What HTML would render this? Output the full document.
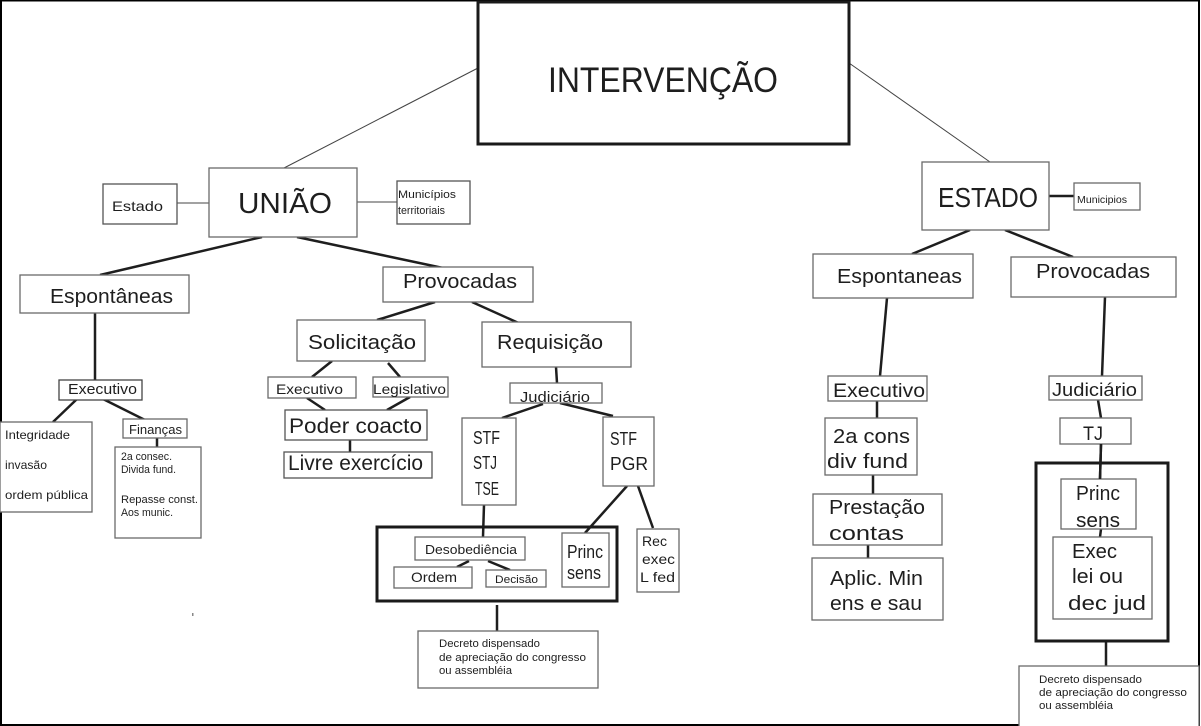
<!DOCTYPE html>
<html><head><meta charset="utf-8"><style>
html,body{margin:0;padding:0;background:#fff;}
svg{display:block;}
text{font-family:"Liberation Sans",sans-serif;fill:#1e1e1e;}
</style></head><body>
<svg width="1201" height="726" viewBox="0 0 1201 726" xmlns="http://www.w3.org/2000/svg">
<rect x="0" y="0" width="1201" height="726" fill="#fff"/>
<!-- outer border -->
<rect x="1" y="0.5" width="1198" height="724.5" fill="none" stroke="#000" stroke-width="2"/>

<!-- thin connectors -->
<g stroke="#444" stroke-width="1" fill="none">
<line x1="478" y1="68" x2="284" y2="168"/>
<line x1="849" y1="63" x2="990" y2="162"/>
<line x1="177" y1="203" x2="209" y2="203"/>
<line x1="357" y1="202" x2="397" y2="202"/>
</g>
<!-- thick connectors -->
<g stroke="#1e1e1e" stroke-width="2.5" fill="none">
<line x1="262" y1="237" x2="100" y2="275"/>
<line x1="297" y1="237" x2="443" y2="268"/>
<line x1="95" y1="313" x2="95" y2="380"/>
<line x1="77" y1="399" x2="53" y2="422"/>
<line x1="103" y1="399" x2="145" y2="420"/>
<line x1="157" y1="438" x2="157" y2="447"/>
<line x1="435" y1="302" x2="377" y2="320"/>
<line x1="472" y1="302" x2="523" y2="325"/>
<line x1="332" y1="361" x2="312" y2="377"/>
<line x1="388" y1="363" x2="400" y2="377"/>
<line x1="307" y1="398" x2="325" y2="410"/>
<line x1="410" y1="397" x2="387" y2="410"/>
<line x1="350" y1="440" x2="350" y2="452"/>
<line x1="556" y1="367" x2="557" y2="383"/>
<line x1="543" y1="404" x2="502" y2="418"/>
<line x1="560" y1="403" x2="613" y2="416"/>
<line x1="484" y1="505" x2="483" y2="537"/>
<line x1="627" y1="486" x2="585" y2="533"/>
<line x1="638" y1="486" x2="653" y2="528"/>
<line x1="469" y1="561" x2="457" y2="567"/>
<line x1="488" y1="561" x2="510" y2="570"/>
<line x1="497" y1="605" x2="497" y2="631"/>
<line x1="1049" y1="196" x2="1075" y2="196"/>
<line x1="970" y1="230" x2="912" y2="254"/>
<line x1="1005" y1="230" x2="1073" y2="257"/>
<line x1="887" y1="298" x2="880" y2="376"/>
<line x1="877" y1="401" x2="877" y2="418"/>
<line x1="873" y1="475" x2="873" y2="494"/>
<line x1="868" y1="545" x2="868" y2="558"/>
<line x1="1105" y1="297" x2="1102" y2="376"/>
<line x1="1098" y1="400" x2="1101" y2="418"/>
<line x1="1101" y1="444" x2="1100" y2="479"/>
<line x1="1101" y1="529" x2="1100" y2="537"/>
<line x1="1106" y1="641" x2="1106" y2="666"/>
</g>

<!-- thick boxes -->
<g fill="none" stroke="#1a1a1a" stroke-width="3">
<rect x="478" y="2" width="371" height="142"/>
<rect x="377" y="527" width="240" height="74"/>
<rect x="1036" y="463" width="132" height="178"/>
</g>

<!-- normal boxes -->
<g fill="#fff" stroke="#6a6a6a" stroke-width="1.3">
<rect x="209" y="168" width="148" height="69"/>
<rect x="103" y="184" width="74" height="40" stroke="#555"/>
<rect x="397" y="181" width="73" height="43" stroke="#555"/>
<rect x="20" y="275" width="169" height="38"/>
<rect x="383" y="267" width="150" height="35"/>
<rect x="59" y="380" width="83" height="20" stroke="#444"/>
<rect x="0" y="422" width="92" height="90"/>
<rect x="123" y="419" width="64" height="19"/>
<rect x="115" y="447" width="86" height="91"/>
<rect x="297" y="320" width="128" height="41"/>
<rect x="482" y="322" width="149" height="45"/>
<rect x="268" y="377" width="88" height="21"/>
<rect x="373" y="377" width="75" height="20"/>
<rect x="285" y="410" width="142" height="30" stroke="#555"/>
<rect x="284" y="452" width="148" height="26" stroke="#555"/>
<rect x="510" y="383" width="92" height="20"/>
<rect x="462" y="418" width="54" height="87"/>
<rect x="603" y="417" width="51" height="69"/>
<rect x="415" y="537" width="110" height="23"/>
<rect x="394" y="567" width="78" height="21"/>
<rect x="486" y="570" width="60" height="17"/>
<rect x="562" y="533" width="47" height="54"/>
<rect x="637" y="529" width="42" height="63"/>
<rect x="418" y="631" width="180" height="57"/>
<rect x="922" y="162" width="127" height="68"/>
<rect x="1074" y="183" width="66" height="27"/>
<rect x="813" y="254" width="160" height="44"/>
<rect x="1011" y="257" width="165" height="40"/>
<rect x="828" y="376" width="99" height="25"/>
<rect x="825" y="418" width="92" height="57"/>
<rect x="813" y="494" width="129" height="51"/>
<rect x="812" y="558" width="131" height="62"/>
<rect x="1049" y="376" width="93" height="24"/>
<rect x="1060" y="418" width="71" height="26"/>
<rect x="1061" y="479" width="75" height="50"/>
<rect x="1053" y="537" width="99" height="82"/>
<rect x="1019" y="666" width="180" height="62"/>
</g>
<!-- redraw line through Princ top (right) -->
<line x1="1101" y1="444" x2="1100" y2="479" stroke="#1e1e1e" stroke-width="2.5"/>

<!-- text -->
<g lengthAdjust="spacingAndGlyphs">
<text x="548" y="92" font-size="35" textLength="230" lengthAdjust="spacingAndGlyphs">INTERVENÇÃO</text>
<text x="238" y="213" font-size="29" textLength="94" lengthAdjust="spacingAndGlyphs">UNIÃO</text>
<text x="112" y="211" font-size="14" textLength="51" lengthAdjust="spacingAndGlyphs">Estado</text>
<text x="398" y="198" font-size="11" textLength="58" lengthAdjust="spacingAndGlyphs">Municípios</text>
<text x="398" y="214" font-size="11" textLength="47" lengthAdjust="spacingAndGlyphs">territoriais</text>
<text x="50" y="303" font-size="20" textLength="123" lengthAdjust="spacingAndGlyphs">Espontâneas</text>
<text x="403" y="288" font-size="20" textLength="114" lengthAdjust="spacingAndGlyphs">Provocadas</text>
<text x="68" y="394" font-size="15" textLength="69" lengthAdjust="spacingAndGlyphs">Executivo</text>
<text x="5" y="439" font-size="12" textLength="65" lengthAdjust="spacingAndGlyphs">Integridade</text>
<text x="5" y="469" font-size="12" textLength="42" lengthAdjust="spacingAndGlyphs">invasão</text>
<text x="5" y="499" font-size="12" textLength="83" lengthAdjust="spacingAndGlyphs">ordem pública</text>
<text x="129" y="434" font-size="13" textLength="53" lengthAdjust="spacingAndGlyphs">Finanças</text>
<text x="121" y="460" font-size="11" textLength="51" lengthAdjust="spacingAndGlyphs">2a consec.</text>
<text x="121" y="473" font-size="11" textLength="55" lengthAdjust="spacingAndGlyphs">Divida fund.</text>
<text x="121" y="503" font-size="11" textLength="77" lengthAdjust="spacingAndGlyphs">Repasse const.</text>
<text x="121" y="516" font-size="11" textLength="52" lengthAdjust="spacingAndGlyphs">Aos munic.</text>
<text x="308" y="349" font-size="20" textLength="108" lengthAdjust="spacingAndGlyphs">Solicitação</text>
<text x="497" y="349" font-size="20" textLength="106" lengthAdjust="spacingAndGlyphs">Requisição</text>
<text x="276" y="394" font-size="14" textLength="67" lengthAdjust="spacingAndGlyphs">Executivo</text>
<text x="373" y="394" font-size="14" textLength="73" lengthAdjust="spacingAndGlyphs">Legislativo</text>
<text x="289" y="433" font-size="21" textLength="133" lengthAdjust="spacingAndGlyphs">Poder coacto</text>
<text x="288" y="470" font-size="21" textLength="135" lengthAdjust="spacingAndGlyphs">Livre exercício</text>
<text x="520" y="402" font-size="15" textLength="70" lengthAdjust="spacingAndGlyphs">Judiciário</text>
<text x="473" y="444" font-size="18" textLength="27" lengthAdjust="spacingAndGlyphs">STF</text>
<text x="473" y="469" font-size="18" textLength="24" lengthAdjust="spacingAndGlyphs">STJ</text>
<text x="475" y="495" font-size="18" textLength="24" lengthAdjust="spacingAndGlyphs">TSE</text>
<text x="610" y="445" font-size="18" textLength="27" lengthAdjust="spacingAndGlyphs">STF</text>
<text x="610" y="470" font-size="18" textLength="38" lengthAdjust="spacingAndGlyphs">PGR</text>
<text x="425" y="554" font-size="13" textLength="92" lengthAdjust="spacingAndGlyphs">Desobediência</text>
<text x="411" y="582" font-size="14" textLength="46" lengthAdjust="spacingAndGlyphs">Ordem</text>
<text x="495" y="583" font-size="11" textLength="43" lengthAdjust="spacingAndGlyphs">Decisão</text>
<text x="567" y="558" font-size="18" textLength="36" lengthAdjust="spacingAndGlyphs">Princ</text>
<text x="567" y="579" font-size="18" textLength="34" lengthAdjust="spacingAndGlyphs">sens</text>
<text x="642" y="546" font-size="14" textLength="25" lengthAdjust="spacingAndGlyphs">Rec</text>
<text x="642" y="564" font-size="14" textLength="33" lengthAdjust="spacingAndGlyphs">exec</text>
<text x="640" y="582" font-size="14" textLength="35" lengthAdjust="spacingAndGlyphs">L fed</text>
<text x="439" y="647" font-size="11" textLength="101" lengthAdjust="spacingAndGlyphs">Decreto dispensado</text>
<text x="439" y="661" font-size="11" textLength="147" lengthAdjust="spacingAndGlyphs">de apreciação do congresso</text>
<text x="439" y="674" font-size="11" textLength="73" lengthAdjust="spacingAndGlyphs">ou assembléia</text>

<text x="938" y="207" font-size="28" textLength="100" lengthAdjust="spacingAndGlyphs">ESTADO</text>
<text x="1077" y="203" font-size="10" textLength="50" lengthAdjust="spacingAndGlyphs">Municipios</text>
<text x="837" y="283" font-size="20" textLength="125" lengthAdjust="spacingAndGlyphs">Espontaneas</text>
<text x="1036" y="278" font-size="20" textLength="114" lengthAdjust="spacingAndGlyphs">Provocadas</text>
<text x="833" y="397" font-size="19" textLength="92" lengthAdjust="spacingAndGlyphs">Executivo</text>
<text x="833" y="443" font-size="20" textLength="77" lengthAdjust="spacingAndGlyphs">2a cons</text>
<text x="827" y="468" font-size="20" textLength="81" lengthAdjust="spacingAndGlyphs">div fund</text>
<text x="829" y="514" font-size="20" textLength="96" lengthAdjust="spacingAndGlyphs">Prestação</text>
<text x="829" y="540" font-size="20" textLength="75" lengthAdjust="spacingAndGlyphs">contas</text>
<text x="830" y="585" font-size="20" textLength="93" lengthAdjust="spacingAndGlyphs">Aplic. Min</text>
<text x="830" y="610" font-size="20" textLength="92" lengthAdjust="spacingAndGlyphs">ens e sau</text>
<text x="1052" y="396" font-size="18" textLength="85" lengthAdjust="spacingAndGlyphs">Judiciário</text>
<text x="1083" y="440" font-size="19" textLength="20" lengthAdjust="spacingAndGlyphs">TJ</text>
<text x="1076" y="500" font-size="20" textLength="44" lengthAdjust="spacingAndGlyphs">Princ</text>
<text x="1076" y="527" font-size="20" textLength="44" lengthAdjust="spacingAndGlyphs">sens</text>
<text x="1072" y="558" font-size="20" textLength="45" lengthAdjust="spacingAndGlyphs">Exec</text>
<text x="1072" y="583" font-size="20" textLength="51" lengthAdjust="spacingAndGlyphs">lei ou</text>
<text x="1068" y="610" font-size="20" textLength="78" lengthAdjust="spacingAndGlyphs">dec jud</text>
<text x="1039" y="683" font-size="11" textLength="103" lengthAdjust="spacingAndGlyphs">Decreto dispensado</text>
<text x="1039" y="696" font-size="11" textLength="148" lengthAdjust="spacingAndGlyphs">de apreciação do congresso</text>
<text x="1039" y="709" font-size="11" textLength="74" lengthAdjust="spacingAndGlyphs">ou assembléia</text>
</g>
<rect x="192" y="613" width="1.5" height="3" fill="#888"/>
</svg>
</body></html>
